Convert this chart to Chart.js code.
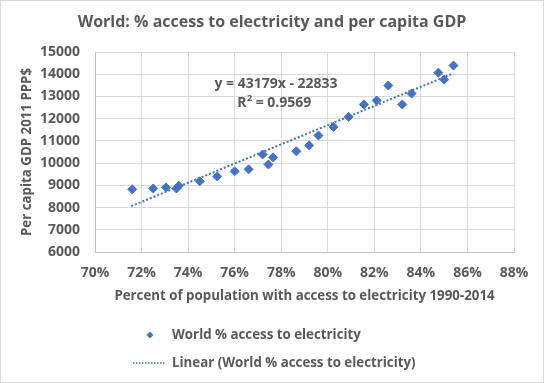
<!DOCTYPE html>
<html><head><meta charset="utf-8">
<style>html,body{margin:0;padding:0;background:#fff}</style>
<script src="https://cdn.jsdelivr.net/npm/chart.js@4"></script>
</head>
<body>
<canvas id="c" width="544" height="383" style="width:544px;height:383px;display:block"></canvas>
<script>
const accessPct = [71.6, 72.5, 73.05, 73.5, 73.6, 74.5, 75.25, 76.0, 76.6, 77.2, 77.45, 77.65, 78.65, 79.2, 79.6, 80.25, 80.9, 81.55, 82.1, 82.6, 83.2, 83.6, 84.75, 85.0, 85.4];
const gdpPerCapita = [8820, 8860, 8910, 8860, 8980, 9180, 9400, 9630, 9720, 10390, 9940, 10260, 10530, 10800, 11240, 11630, 12080, 12640, 12820, 13490, 12640, 13130, 14070, 13760, 14390];
const trendX = [71.56, 85.39];
const trendY = [8065, 14037];
const xTicks = [70, 72, 74, 76, 78, 80, 82, 84, 86, 88];
const yTicks = [6000, 7000, 8000, 9000, 10000, 11000, 12000, 13000, 14000, 15000];
const titleText = 'World: % access to electricity and per capita GDP';
const equationText = 'y = 43179x - 22833';
const r2Text = '0.9569';
const seriesName = 'World % access to electricity';
const trendName = 'Linear (World % access to electricity)';

const FONT = '"Open Sans", sans-serif';
const TXT = '#595959';
const BLUE = '#4472C4';

const extras = {
  id: 'extras',
  afterDraw(chart) {
    const ctx = chart.ctx;
    ctx.save();
    ctx.strokeStyle = '#d9d9d9';
    ctx.lineWidth = 1;
    ctx.strokeRect(0.5, 0.5, chart.width - 1, chart.height - 1);
    ctx.fillStyle = TXT;
    ctx.textBaseline = 'middle';
    ctx.textAlign = 'center';
    ctx.font = 'bold 16px ' + FONT;
    ctx.fillText(titleText, 272, 22);
    ctx.font = 'bold 14px ' + FONT;
    ctx.fillText(equationText, 276, 84);
    const r1 = 'R', r2 = ' = ' + r2Text;
    const wR = ctx.measureText(r1).width;
    ctx.font = 'bold 9px ' + FONT;
    const wS = ctx.measureText('2').width;
    ctx.font = 'bold 14px ' + FONT;
    const wRest = ctx.measureText(r2).width;
    let sx = 274 - (wR + wS + wRest) / 2;
    ctx.textAlign = 'left';
    ctx.fillText(r1, sx, 103.5);
    ctx.font = 'bold 9px ' + FONT;
    ctx.fillText('2', sx + wR + 0.5, 98.5);
    ctx.font = 'bold 14px ' + FONT;
    ctx.fillText(r2, sx + wR + wS + 0.5, 103.5);
    ctx.font = 'bold 13.3px ' + FONT;
    ctx.fillText(seriesName, 172, 335);
    ctx.fillText(trendName, 172, 363);
    ctx.fillStyle = BLUE;
    ctx.beginPath();
    ctx.moveTo(150, 331.5); ctx.lineTo(153.5, 335); ctx.lineTo(150, 338.5); ctx.lineTo(146.5, 335);
    ctx.closePath(); ctx.fill();
    ctx.strokeStyle = BLUE;
    ctx.lineWidth = 1.5;
    ctx.setLineDash([1.5, 1.5]);
    ctx.beginPath(); ctx.moveTo(133, 363); ctx.lineTo(166, 363); ctx.stroke();
    ctx.restore();
  }
};

new Chart(document.getElementById('c'), {
  type: 'scatter',
  data: {
    datasets: [
      {
        label: seriesName,
        data: accessPct.map((x, i) => ({x, y: gdpPerCapita[i]})),
        pointStyle: 'rectRot',
        radius: 4.5,
        hoverRadius: 4.5,
        backgroundColor: BLUE,
        borderColor: BLUE,
        borderWidth: 1,
        order: 1
      },
      {
        label: trendName,
        type: 'line',
        data: trendX.map((x, i) => ({x, y: trendY[i]})),
        borderColor: BLUE,
        borderWidth: 2,
        borderDash: [2, 2],
        pointRadius: 0,
        fill: false,
        showLine: true,
        order: 2
      }
    ]
  },
  options: {
    responsive: false,
    animation: false,
    layout: { padding: { left: 0, right: 30, top: 52, bottom: 79 } },
    plugins: { legend: { display: false }, title: { display: false }, tooltip: { enabled: false } },
    scales: {
      x: {
        type: 'linear', min: 70, max: 88,
        afterBuildTicks: s => { s.ticks = xTicks.map(v => ({value: v})); },
        afterFit: s => { s.height = 52; },
        ticks: { callback: v => v + '%', color: TXT, font: { family: FONT, size: 14, weight: 'bold' }, padding: 13, maxRotation: 0 },
        grid: { color: '#d9d9d9', drawTicks: false },
        border: { color: '#bfbfbf' },
        title: { display: true, text: 'Percent of population with access to electricity 1990-2014', color: TXT, font: { family: FONT, size: 13.3, weight: 'bold' }, padding: { top: 4, bottom: 0 } }
      },
      y: {
        type: 'linear', min: 6000, max: 15000,
        afterBuildTicks: s => { s.ticks = yTicks.map(v => ({value: v})); },
        afterFit: s => { s.width = 95; },
        ticks: { callback: v => String(v), color: TXT, font: { family: FONT, size: 14, weight: 'bold' }, padding: 15 },
        grid: { color: '#d9d9d9', drawTicks: false },
        border: { color: '#bfbfbf' },
        title: { display: true, text: 'Per capita GDP 2011 PPP$', color: TXT, font: { family: FONT, size: 13.3, weight: 'bold' }, padding: { top: 19, bottom: 0 } }
      }
    }
  },
  plugins: [extras]
});
</script>
</body></html>
